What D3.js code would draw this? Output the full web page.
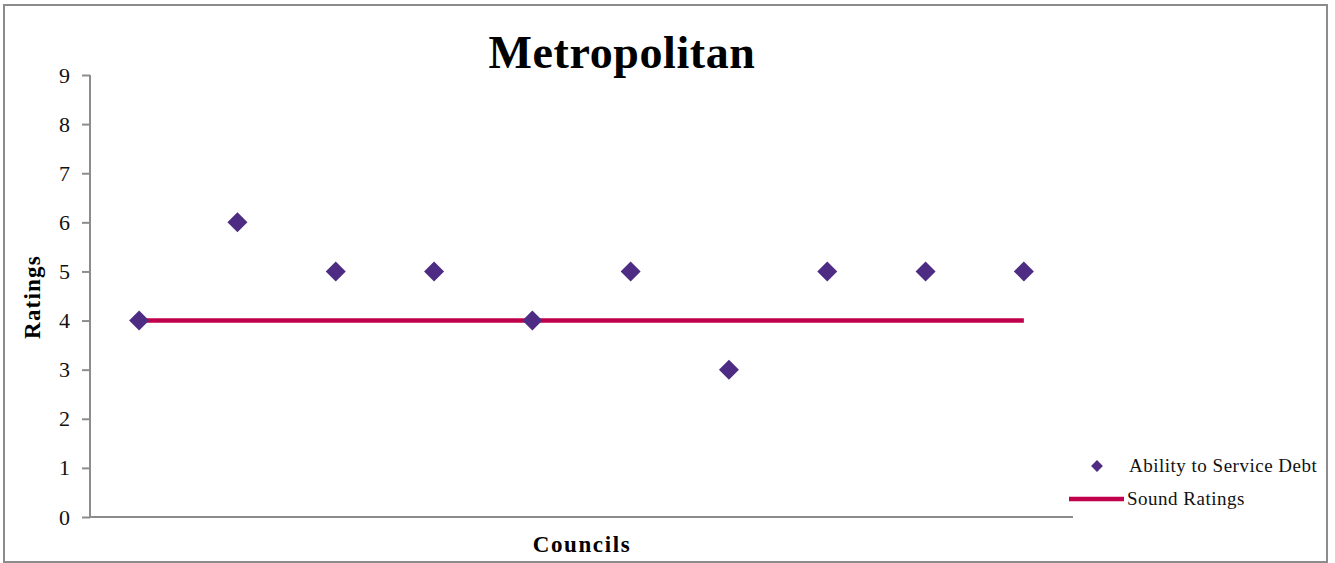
<!DOCTYPE html>
<html>
<head>
<meta charset="utf-8">
<script src="https://cdn.jsdelivr.net/npm/d3@7/dist/d3.min.js"></script>
<style>
  html, body { margin: 0; padding: 0; background: #fff; }
  svg { display: block; }
  text { font-family: "Liberation Serif", "DejaVu Serif", serif; }
</style>
</head>
<body>
<script>
// Councils (unnamed on the axis) and their ratings
const councils = ["C1", "C2", "C3", "C4", "C5", "C6", "C7", "C8", "C9", "C10"];
const abilityToServiceDebt = [4, 6, 5, 5, 4, 5, 3, 5, 5, 5];
const soundRatings = [4, 4, 4, 4, 4, 4, 4, 4, 4, 4];
const yTicks = [0, 1, 2, 3, 4, 5, 6, 7, 8, 9];

const W = 1335, H = 563;
const svg = d3.select("body").append("svg").attr("width", W).attr("height", H);

// outer frame
svg.append("rect").attr("x", 4).attr("y", 5).attr("width", 1323).attr("height", 557)
  .attr("fill", "#fff").attr("stroke", "#8c8c8c").attr("stroke-width", 2);

const plotL = 90, plotR = 1073, plotT = 75, plotB = 517;
const x = d3.scaleBand().domain(councils).range([plotL, plotR]);
const y = d3.scaleLinear().domain([0, 9]).range([plotB, plotT]);

// y axis
const yAxis = svg.append("g").attr("transform", `translate(${plotL},0)`)
  .call(d3.axisLeft(y).tickValues(yTicks).tickSize(8).tickPadding(12).tickFormat(d3.format("d")));
yAxis.selectAll("path, line").attr("stroke", "#8c8c8c").attr("stroke-width", 2);
yAxis.select(".domain").attr("d", `M0,${plotT}V${plotB}`);
yAxis.selectAll("text").attr("font-size", 22).attr("fill", "#111")
  .attr("font-family", "'Liberation Serif', serif");

// x axis baseline
svg.append("line").attr("x1", plotL).attr("x2", plotR).attr("y1", y(0)).attr("y2", y(0))
  .attr("stroke", "#8c8c8c").attr("stroke-width", 2);

const cx = d => x(d) + x.bandwidth() / 2;

// sound rating line
const line = d3.line().x((d, i) => cx(councils[i])).y(d => y(d));
svg.append("path").datum(soundRatings).attr("d", line)
  .attr("fill", "none").attr("stroke", "#c0004a").attr("stroke-width", 4.5);

// diamonds
const diamond = d3.symbol().type(d3.symbolSquare).size(200);
svg.append("g").selectAll("path").data(abilityToServiceDebt).join("path")
  .attr("d", diamond)
  .attr("transform", (d, i) => `translate(${cx(councils[i])},${y(d)}) rotate(45)`)
  .attr("fill", "#4e2c84");

// title and axis titles
svg.append("text").attr("x", 622).attr("y", 68).attr("text-anchor", "middle")
  .attr("font-size", 46).attr("letter-spacing", 0.6).attr("font-weight", "bold").attr("fill", "#000").text("Metropolitan");
svg.append("text").attr("transform", "translate(40,297) rotate(-90)").attr("text-anchor", "middle")
  .attr("font-size", 23).attr("letter-spacing", 1.2).attr("font-weight", "bold").attr("fill", "#000").text("Ratings");
svg.append("text").attr("x", 582).attr("y", 552).attr("text-anchor", "middle")
  .attr("font-size", 23).attr("letter-spacing", 1.6).attr("font-weight", "bold").attr("fill", "#000").text("Councils");

// legend
const lg = svg.append("g");
lg.append("path").attr("d", d3.symbol().type(d3.symbolSquare).size(70))
  .attr("transform", "translate(1097,466) rotate(45)").attr("fill", "#4e2c84");
lg.append("text").attr("x", 1129).attr("y", 472).attr("font-size", 19).attr("letter-spacing", 0.5).attr("fill", "#111")
  .text("Ability to Service Debt");
lg.append("line").attr("x1", 1069).attr("x2", 1124).attr("y1", 499).attr("y2", 499)
  .attr("stroke", "#c0004a").attr("stroke-width", 4.5);
lg.append("text").attr("x", 1127).attr("y", 505).attr("font-size", 19).attr("letter-spacing", 0.5).attr("fill", "#111")
  .text("Sound Ratings");
</script>
</body>
</html>
